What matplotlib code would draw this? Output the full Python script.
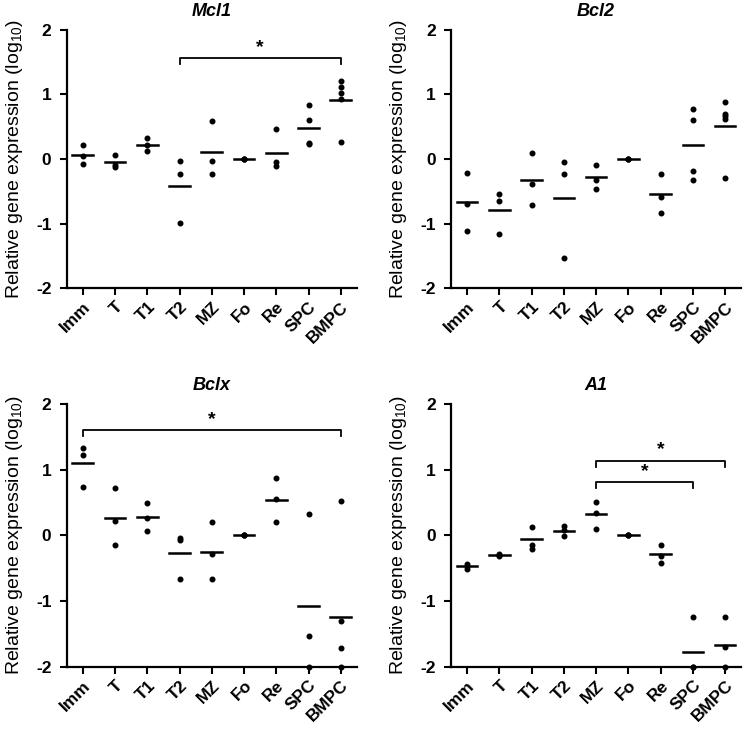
#Relative gene expression of Bcl-2 family members across B cell subsets
import numpy as np
import matplotlib.pyplot as plt

plt.rcParams['font.family'] = ['Liberation Sans', 'DejaVu Sans']
plt.rcParams['mathtext.default'] = 'regular'
plt.rcParams['axes.unicode_minus'] = False

#categories on the x axis
subsets = ["Imm", "T", "T1", "T2", "MZ", "Fo", "Re", "SPC", "BMPC"]

#individual points (log10) and the mean line for each subset
mcl1_pts = [[0.21, 0.05, -0.08], [0.06, -0.09, -0.12], [0.32, 0.22, 0.13],
            [-0.03, -0.23, -0.99], [0.59, -0.03, -0.23], [0.0, 0.0, 0.0],
            [0.47, -0.04, -0.11], [0.84, 0.60, 0.25, 0.23],
            [1.21, 1.12, 1.03, 0.93, 0.26]]
mcl1_mean = [0.06, -0.05, 0.22, -0.42, 0.11, 0.0, 0.10, 0.48, 0.91]

bcl2_pts = [[-0.21, -0.69, -1.11], [-0.55, -0.65, -1.17], [0.09, -0.38, -0.71],
            [-0.05, -0.24, -1.53], [-0.09, -0.33, -0.47], [0.0, 0.0, 0.0],
            [-0.23, -0.59, -0.84], [0.77, 0.60, -0.18, -0.33],
            [0.88, 0.70, 0.66, 0.62, -0.30]]
bcl2_mean = [-0.66, -0.79, -0.33, -0.61, -0.28, 0.0, -0.55, 0.22, 0.51]

bclx_pts = [[1.34, 1.22, 0.74], [0.72, 0.22, -0.14], [0.50, 0.27, 0.07],
            [-0.04, -0.07, -0.66], [0.20, -0.28, -0.66], [0.0, 0.0, 0.0],
            [0.87, 0.55, 0.20], [0.32, -1.53, -2.0],
            [0.52, -1.31, -1.71, -2.0]]
bclx_mean = [1.11, 0.27, 0.28, -0.26, -0.25, 0.0, 0.54, -1.08, -1.24]

a1_pts = [[-0.44, -0.47, -0.51], [-0.29, -0.30, -0.31], [0.13, -0.15, -0.20],
          [0.14, 0.08, -0.01], [0.51, 0.34, 0.10], [0.0, 0.0, 0.0],
          [-0.14, -0.31, -0.42], [-1.24, -2.0, -2.0], [-1.24, -1.70, -2.0]]
a1_mean = [-0.47, -0.30, -0.06, 0.07, 0.32, 0.0, -0.29, -1.77, -1.67]

#significance brackets: (from, to, height)
mcl1_sig = [(3, 8, 1.56)]
bclx_sig = [(0, 8, 1.60)]
a1_sig = [(4, 8, 1.14), (4, 7, 0.81)]

panels = [("Mcl1", mcl1_pts, mcl1_mean, mcl1_sig),
          ("Bcl2", bcl2_pts, bcl2_mean, []),
          ("Bclx", bclx_pts, bclx_mean, bclx_sig),
          ("A1", a1_pts, a1_mean, a1_sig)]

#axes positions in figure fractions [left, bottom, width, height]
boxes = [[0.0894, 0.606, 0.389, 0.353],
         [0.6046, 0.606, 0.389, 0.353],
         [0.0894, 0.088, 0.389, 0.359],
         [0.6046, 0.088, 0.389, 0.359]]

fig = plt.figure(figsize=(7.46, 7.31), dpi=100)

for (name, pts, means, sigs), box in zip(panels, boxes):
    ax = fig.add_axes(box)
    for i, vals in enumerate(pts):
        ax.plot([i]*len(vals), vals, 'o', color='black', ms=3.3, clip_on=False, zorder=3)
        ax.plot([i-0.32, i+0.32], [means[i], means[i]], color='black', lw=1.8, zorder=3)
    for a, b, h in sigs:
        ax.plot([a, a, b, b], [h-0.09, h, h, h-0.09], color='black', lw=1.3, clip_on=False)
        ax.text((a+b)/2, h+0.04, '*', ha='center', va='bottom', fontsize=14, fontweight='bold')

    ax.set_xlim(-0.5, 8.5)
    ax.set_ylim(-2, 2)
    ax.set_yticks([-2, -1, 0, 1, 2])
    ax.set_xticks(range(len(subsets)))
    ax.set_xticklabels(subsets, rotation=45, ha='right', rotation_mode='anchor')
    for lbl in ax.get_xticklabels():
        lbl.set_fontweight('bold')
        lbl.set_fontsize(12.5)
    for lbl in ax.get_yticklabels():
        lbl.set_fontweight('bold')
        lbl.set_fontsize(12.5)
    ax.tick_params(axis='both', length=5, width=1.5, direction='out', colors='black')
    ax.tick_params(axis='y', pad=6)
    ax.tick_params(axis='x', pad=3)
    ax.spines['top'].set_visible(False)
    ax.spines['right'].set_visible(False)
    ax.spines['left'].set_linewidth(1.6)
    ax.spines['bottom'].set_linewidth(1.6)
    ax.set_ylabel('Relative gene expression (log$_{10}$)', fontsize=14, labelpad=8)
    ax.set_title(name, fontsize=13, fontweight='bold', fontstyle='italic', pad=10)

plt.savefig("out.png", dpi=100)
